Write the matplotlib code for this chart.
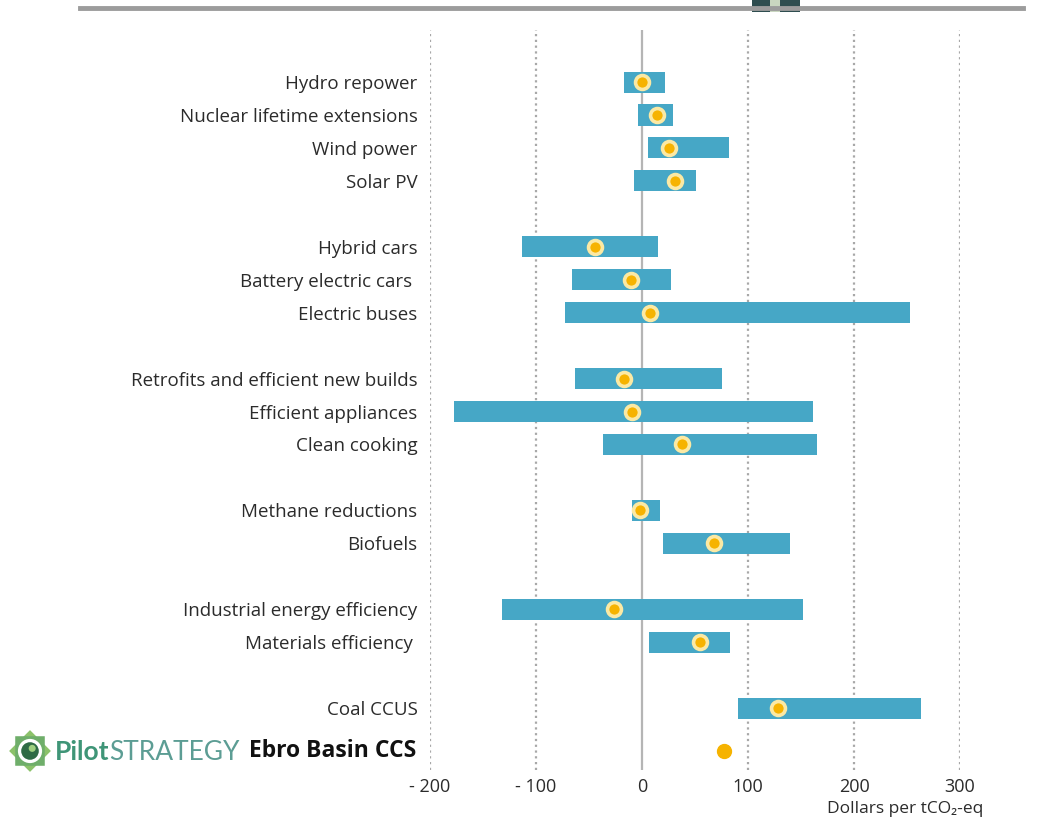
import matplotlib
matplotlib.use('Agg')
import matplotlib.pyplot as plt
from matplotlib.patches import Rectangle, Circle, RegularPolygon
from matplotlib.lines import Line2D

plt.rcParams['font.family'] = ['Open Sans', 'DejaVu Sans']

# abatement cost ranges, USD per tCO2-eq
measures = ['Hydro repower', 'Nuclear lifetime extensions', 'Wind power', 'Solar PV',
            'Hybrid cars', 'Battery electric cars ', 'Electric buses',
            'Retrofits and efficient new builds', 'Efficient appliances', 'Clean cooking',
            'Methane reductions', 'Biofuels',
            'Industrial energy efficiency', 'Materials efficiency ',
            'Coal CCUS']
rows = [0, 1, 2, 3, 5, 6, 7, 9, 10, 11, 13, 14, 16, 17, 19]
low = [-17, -4, 6, -8, -113, -66, -73, -63, -177, -37, -9, 20, -132, 7, 91]
high = [22, 29, 82, 51, 15, 27, 253, 75, 161, 165, 17, 140, 152, 83, 263]
central = [0, 14, 25, 31, -44, -10, 8, -17, -9, 38, -2, 68, -26, 55, 128]

ebro_label = 'Ebro Basin CCS'
ebro_row = 20.3
ebro_cost = 77

xticks = [-200, -100, 0, 100, 200, 300]
xticklabels = ['- 200', '- 100', '0', '100', '200', '300']

bar_color = '#46A7C6'
dot_color = '#F6B300'
ring_color = '#FBE9A4'
text_color = '#2b2b2b'

fig = plt.figure(figsize=(10.47, 8.27), dpi=100)
ax = fig.add_axes([430 / 1047, 1 - 770 / 827, 530 / 1047, 740 / 827])

# grid: dotted at every 100, solid at zero
for x in xticks:
    if x == 0:
        ax.axvline(x, color='#b5b5b5', lw=1.6, zorder=1)
    else:
        ax.axvline(x, color='#a8a8a8', lw=1.6, ls=(0, (1, 1.6)), zorder=1)

widths = [h - l for l, h in zip(low, high)]
ax.barh(rows, widths, left=low, height=0.64, color=bar_color, zorder=2)
ax.plot(central, rows, 'o', ms=10, mfc=dot_color, mec=ring_color, mew=2.6,
        ls='none', zorder=3)
ax.plot([ebro_cost], [ebro_row], 'o', ms=10, mfc=dot_color, mec=dot_color,
        ls='none', zorder=3)

ax.set_xlim(-200, 300)
ax.set_ylim(20.88, -1.58)
ax.set_yticks(rows)
ax.set_yticklabels(measures, fontsize=13.5, color=text_color)
ax.set_xticks(xticks)
ax.set_xticklabels(xticklabels, fontsize=13, color=text_color)
ax.tick_params(length=0)
ax.tick_params(axis='y', pad=9)
ax.tick_params(axis='x', pad=6)
for s in ax.spines.values():
    s.set_visible(False)

ax.text(-0.026, ebro_row, ebro_label, transform=ax.get_yaxis_transform(),
        ha='right', va='center', fontsize=16.5, fontweight='bold', color='#111111')
fig.text(905 / 1047, 1 - 809 / 827, 'Dollars per tCO\u2082-eq', ha='center', va='center',
         fontsize=12.5, color=text_color)

# header rule and corner logo
fig.add_artist(Line2D([80 / 1047, 1023 / 1047], [1 - 8 / 827, 1 - 8 / 827],
                      color='#9c9c9c', lw=3.5))
fig.add_artist(Rectangle((752 / 1047, 1 - 12 / 827), 48 / 1047, 12 / 827,
                         color='#2e4d4f', lw=0))
fig.add_artist(Rectangle((770 / 1047, 1 - 12 / 827), 10 / 1047, 12 / 827,
                         color='#c9d6c0', lw=0))

# PilotSTRATEGY logo
logo = fig.add_axes([8 / 1047, 1 - 773 / 827, 44 / 1047, 44 / 827])
logo.set_xlim(-1, 1)
logo.set_ylim(-1, 1)
logo.set_aspect('equal')
logo.axis('off')
logo.add_patch(RegularPolygon((0, 0), 4, radius=0.95, color='#8cc26a', lw=0))
logo.add_patch(RegularPolygon((0, 0), 4, radius=0.95, orientation=0.785, color='#6fae6a', lw=0))
logo.add_patch(Circle((0, 0), 0.55, color='white', lw=0))
logo.add_patch(Circle((0, 0), 0.4, color='#2f6b45', lw=0))
logo.add_patch(Circle((0.1, 0.12), 0.16, color='#9fd080', lw=0))

t = fig.text(55 / 1047, 1 - 752 / 827, 'Pilot', fontsize=19, fontweight='bold',
             color='#3f9577', va='center', ha='left', family=['Lato', 'DejaVu Sans'])
fig.canvas.draw()
bb = t.get_window_extent()
fig.text(bb.x1 / fig.bbox.width, 1 - 752 / 827, 'STRATEGY', fontsize=19,
         color='#5c9d94', va='center', ha='left', family=['Lato', 'DejaVu Sans'])

fig.savefig('out.png', dpi=100)
